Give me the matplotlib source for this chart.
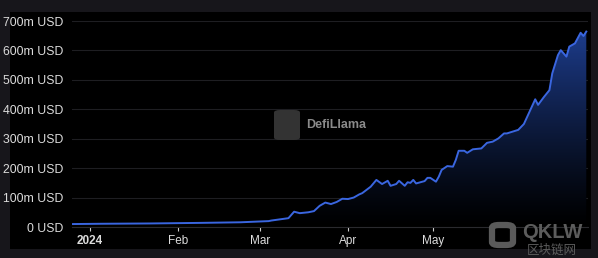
import matplotlib
matplotlib.use("Agg")
import matplotlib.pyplot as plt
import matplotlib.dates as mdates
from matplotlib.patches import FancyBboxPatch, Polygon
import numpy as np
import pandas as pd

dates = ["2023-12-26", "2024-01-05", "2024-01-22", "2024-02-09", "2024-02-23", "2024-02-28",
         "2024-03-04", "2024-03-05", "2024-03-11", "2024-03-13", "2024-03-15", "2024-03-18",
         "2024-03-20", "2024-03-22", "2024-03-24", "2024-03-26", "2024-03-28", "2024-03-30",
         "2024-04-01", "2024-04-03", "2024-04-05", "2024-04-06", "2024-04-09", "2024-04-11",
         "2024-04-13", "2024-04-15", "2024-04-16", "2024-04-18", "2024-04-19", "2024-04-21",
         "2024-04-22", "2024-04-23", "2024-04-24", "2024-04-25", "2024-04-28", "2024-04-29",
         "2024-04-30", "2024-05-02", "2024-05-03", "2024-05-04", "2024-05-06", "2024-05-08",
         "2024-05-09", "2024-05-10", "2024-05-12", "2024-05-13", "2024-05-15", "2024-05-18",
         "2024-05-20", "2024-05-22", "2024-05-24", "2024-05-26", "2024-05-27", "2024-05-31",
         "2024-06-02", "2024-06-04", "2024-06-06", "2024-06-07", "2024-06-09", "2024-06-11",
         "2024-06-12", "2024-06-14", "2024-06-15", "2024-06-17", "2024-06-18", "2024-06-20",
         "2024-06-22", "2024-06-23", "2024-06-24"]
tvl_musd = [10, 11, 12, 14, 16, 18,
            20, 22, 30, 52, 47, 50,
            54, 72, 83, 78, 85, 96,
            95, 100, 111, 115, 137, 160,
            146, 157, 140, 146, 157, 140,
            152, 150, 160, 148, 156, 167,
            167, 154, 171, 194, 207, 205,
            228, 259, 259, 252, 264, 267,
            286, 290, 301, 318, 318, 330,
            350, 392, 434, 415, 441, 465,
            522, 584, 601, 579, 613, 624,
            660, 649, 664]
y_ticks = [0, 100, 200, 300, 400, 500, 600, 700]
y_tick_labels = ["0 USD", "100m USD", "200m USD", "300m USD", "400m USD", "500m USD", "600m USD", "700m USD"]
x_tick_dates = ["2024-01-01", "2024-02-01", "2024-03-01", "2024-04-01", "2024-05-01"]
x_tick_labels = ["2024", "Feb", "Mar", "Apr", "May"]

plt.rcParams["font.family"] = ["Liberation Sans", "DejaVu Sans"]

W, H = 598, 258
fig = plt.figure(figsize=(W / 100, H / 100), dpi=100)
fig.patch.set_facecolor("#17161b")
# black panel
bg = fig.add_axes([10 / W, 1 - 249 / H, 581 / W, 237 / H])
bg.set_facecolor("#000000")
bg.set_xticks([]); bg.set_yticks([])
for s in bg.spines.values():
    s.set_visible(False)
bg.set_zorder(0)

ax_l, ax_r, ax_t, ax_b = 72, 588, 21, 227
ax = fig.add_axes([ax_l / W, 1 - ax_b / H, (ax_r - ax_l) / W, (ax_b - ax_t) / H])
ax.set_facecolor("none")
ax.set_zorder(2)

x = pd.to_datetime(dates)
xn = mdates.date2num(x)
y = np.array(tvl_musd, dtype=float)

ax.set_ylim(0, 700)
ax.set_xlim(xn[0] - 0.3, xn[-1] + 0.6)

# gradient fill
n = 256
cols = np.zeros((n, 1, 4))
top = np.array([0.12, 0.25, 0.58])
for i in range(n):
    t = 1 - i / (n - 1)
    cols[i, 0, :3] = top * t ** 1.2
    cols[i, 0, 3] = 1.0
im = ax.imshow(cols, aspect="auto", extent=[xn[0], xn[-1], 0, 700], origin="upper", zorder=1)
poly = Polygon(np.column_stack([np.r_[xn[0], xn, xn[-1]], np.r_[0, y, 0]]), closed=True,
               facecolor="none", edgecolor="none", transform=ax.transData)
ax.add_patch(poly)
im.set_clip_path(poly)

ax.plot(xn, y, color="#3a66e0", lw=1.4, zorder=3)

ax.set_yticks(y_ticks)
ax.set_yticklabels(y_tick_labels)
ax.set_xticks(mdates.date2num(pd.to_datetime(x_tick_dates)))
ax.set_xticklabels(x_tick_labels)
for lbl in ax.get_xticklabels():
    if lbl.get_text() == "2024":
        lbl.set_fontweight("bold")
ax.tick_params(axis="y", length=0, pad=6, labelsize=8.8, labelcolor="#dcdcdc")
ax.tick_params(axis="x", length=3, width=0.8, color="#cccccc", pad=3, labelsize=8.5, labelcolor="#dcdcdc")
ax.grid(axis="y", color="#1e1e22", lw=0.8)
ax.set_axisbelow(True)
for s in ["top", "right", "left"]:
    ax.spines[s].set_visible(False)
ax.spines["bottom"].set_color("#2a2a2e")
ax.spines["bottom"].set_linewidth(0.8)

# DefiLlama watermark
fig.patches.append(FancyBboxPatch((274 / W, 1 - 140 / H), 26 / W, 30 / H, boxstyle="round,pad=0,rounding_size=0.01",
                                  transform=fig.transFigure, facecolor="#333333", edgecolor="none", zorder=5))
fig.text(306 / W, 1 - 125 / H, "DefiLlama", color="#8a8a8a", fontsize=9, fontweight="bold",
         ha="left", va="center", zorder=6)

# QKLW watermark
fig.patches.append(FancyBboxPatch((492 / W, 1 - 245 / H), 21 / W, 20 / H, boxstyle="round,pad=0,rounding_size=0.012",
                                  transform=fig.transFigure, facecolor="none", edgecolor="#5a5a5a", lw=4.5, zorder=5))
fig.text(522 / W, 1 - 232 / H, "QKLW", color="#5c5c5c", fontsize=14.5, fontweight="bold",
         ha="left", va="center", zorder=6)
fig.text(527 / W, 1 - 250 / H, "区块链网", color="#5c5c5c", fontsize=9,
         family=["Noto Sans CJK SC", "DejaVu Sans"], ha="left", va="center", zorder=6)

fig.savefig("out.png", dpi=100, facecolor=fig.get_facecolor())
